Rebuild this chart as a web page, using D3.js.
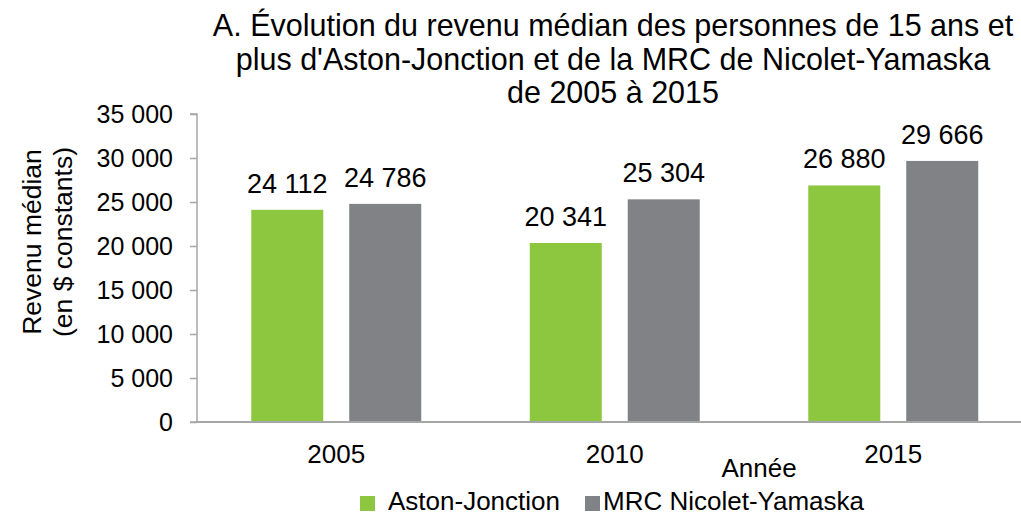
<!DOCTYPE html>
<html>
<head>
<meta charset="utf-8">
<script src="https://cdn.jsdelivr.net/npm/d3@7"></script>
<style>
  body { margin: 0; background: #fff; }
  svg text { font-family: "Liberation Sans", Arial, sans-serif; fill: #000; }
</style>
</head>
<body>
<div id="chart"></div>
<script>
// data
var years = ["2005", "2010", "2015"];
var seriesNames = ["Aston-Jonction", "MRC Nicolet-Yamaska"];
var astonValues = [24112, 20341, 26880];
var mrcValues = [24786, 25304, 29666];
var yTicks = [0, 5000, 10000, 15000, 20000, 25000, 30000, 35000];
var titleLines = [
  "A. Évolution du revenu médian des personnes de 15 ans et",
  "plus d'Aston-Jonction et de la MRC de Nicolet-Yamaska",
  "de 2005 à 2015"
];

var colors = ["#8dc63f", "#808285"];

var width = 1021, height = 515;
var margin = { top: 114, bottom: 93, left: 197 };
var bandW = 278.5;   // the plot runs a bit past the right edge

var svg = d3.select("#chart").append("svg")
  .attr("width", width)
  .attr("height", height);

var fmt = function(v) { return d3.format(",")(v).replace(/,/g, " "); };

var x0 = d3.scaleBand()
  .domain(years)
  .range([margin.left, margin.left + bandW * years.length]);

var x1 = d3.scaleBand()
  .domain(seriesNames)
  .range([0, 170])
  .paddingInner(0.265);

var y = d3.scaleLinear()
  .domain([0, 35000])
  .range([height - margin.bottom, margin.top]);

// title
svg.append("g").selectAll("text")
  .data(titleLines)
  .enter().append("text")
  .attr("x", 613)
  .attr("y", function(d, i) { return 36 + i * 33.5; })
  .attr("text-anchor", "middle")
  .style("font-size", "30.5px")
  .text(function(d) { return d; });

// bars
var groups = svg.append("g").selectAll("g")
  .data(years)
  .enter().append("g")
  .attr("transform", function(d) {
    return "translate(" + (x0(d) + x0.bandwidth() / 2 - 85) + ",0)";
  });

var barData = function(d, i) {
  return [
    { name: seriesNames[0], value: astonValues[i] },
    { name: seriesNames[1], value: mrcValues[i] }
  ];
};

groups.selectAll("rect")
  .data(barData)
  .enter().append("rect")
  .attr("x", function(d) { return x1(d.name); })
  .attr("y", function(d) { return y(d.value); })
  .attr("width", x1.bandwidth())
  .attr("height", function(d) { return y(0) - y(d.value); })
  .attr("fill", function(d, i) { return colors[i]; });

groups.selectAll("text")
  .data(barData)
  .enter().append("text")
  .attr("x", function(d) { return x1(d.name) + x1.bandwidth() / 2; })
  .attr("y", function(d) { return y(d.value) - 17; })
  .attr("text-anchor", "middle")
  .style("font-size", "27px")
  .text(function(d) { return fmt(d.value); });

// y axis
var yAxis = d3.axisLeft(y)
  .tickValues(yTicks)
  .tickSize(7)
  .tickPadding(17)
  .tickFormat(fmt);

var gy = svg.append("g")
  .attr("transform", "translate(" + margin.left + ",0)")
  .call(yAxis);
gy.selectAll("path, line").attr("stroke", "#a6a6a6").attr("stroke-width", 1.5);
gy.selectAll("text").style("font-size", "25px").attr("fill", "#000");
gy.select(".domain").attr("d", "M-7," + y(35000) + "H0V" + y(0) + "H-7");

// x axis
var xAxis = d3.axisBottom(x0).tickSize(0).tickPadding(23);
var gx = svg.append("g")
  .attr("transform", "translate(0," + y(0) + ")")
  .call(xAxis);
gx.select(".domain").attr("stroke", "#a6a6a6").attr("stroke-width", 2)
  .attr("d", "M" + margin.left + ",0H" + width);
gx.selectAll("text").style("font-size", "26px").attr("fill", "#000");

// axis titles
svg.append("text")
  .attr("x", 759)
  .attr("y", 477)
  .attr("text-anchor", "middle")
  .style("font-size", "26px")
  .text("Année");

svg.append("g")
  .attr("transform", "translate(0,242) rotate(-90)")
  .selectAll("text")
  .data(["Revenu médian", "(en $ constants)"])
  .enter().append("text")
  .attr("x", 0)
  .attr("y", function(d, i) { return 41 + i * 31; })
  .attr("text-anchor", "middle")
  .style("font-size", "26.5px")
  .text(function(d) { return d; });

// legend
var legendX = [360, 585];
var legend = svg.append("g").selectAll("g")
  .data(seriesNames)
  .enter().append("g")
  .attr("transform", function(d, i) { return "translate(" + legendX[i] + ",496)"; });

legend.append("rect")
  .attr("width", 15)
  .attr("height", 15)
  .attr("fill", function(d, i) { return colors[i]; });

legend.append("text")
  .attr("x", function(d, i) { return i === 0 ? 28 : 18; })
  .attr("y", 14)
  .style("font-size", "26px")
  .text(function(d) { return d; });
</script>
</body>
</html>
